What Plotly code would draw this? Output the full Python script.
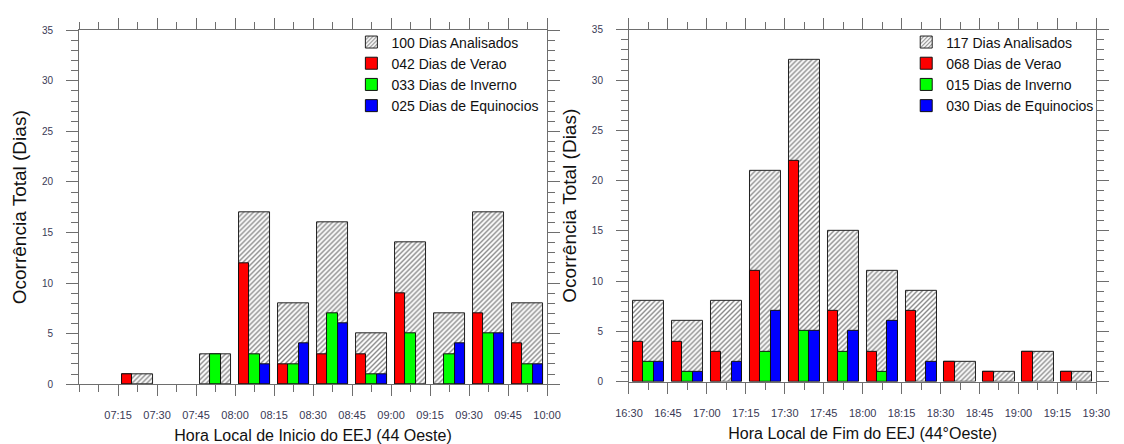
import plotly.graph_objects as go

# ---------------- data ----------------
start_bins = ["07:00", "07:15", "07:30", "07:45", "08:00", "08:15",
              "08:30", "08:45", "09:00", "09:15", "09:30", "09:45"]
start_total = [0, 1, 0, 3, 17, 8, 16, 5, 14, 7, 17, 8]
start_verao = [0, 1, 0, 0, 12, 2, 3, 3, 9, 0, 7, 4]
start_inverno = [0, 0, 0, 3, 3, 2, 7, 1, 5, 3, 5, 2]
start_equinocio = [0, 0, 0, 0, 2, 4, 6, 1, 0, 4, 5, 2]
start_ticks = ["07:15", "07:30", "07:45", "08:00", "08:15", "08:30",
               "08:45", "09:00", "09:15", "09:30", "09:45", "10:00"]
start_range = ["07:00", "10:00"]
start_legend = ["100 Dias Analisados", "042 Dias de Verao",
                "033 Dias de Inverno", "025 Dias de Equinocios"]
start_xtitle = "Hora Local de Inicio do EEJ (44 Oeste)"

end_bins = ["16:30", "16:45", "17:00", "17:15", "17:30", "17:45",
            "18:00", "18:15", "18:30", "18:45", "19:00", "19:15"]
end_total = [8, 6, 8, 21, 32, 15, 11, 9, 2, 1, 3, 1]
end_verao = [4, 4, 3, 11, 22, 7, 3, 7, 2, 1, 3, 1]
end_inverno = [2, 1, 0, 3, 5, 3, 1, 0, 0, 0, 0, 0]
end_equinocio = [2, 1, 2, 7, 5, 5, 6, 2, 0, 0, 0, 0]
end_ticks = ["16:30", "16:45", "17:00", "17:15", "17:30", "17:45", "18:00",
             "18:15", "18:30", "18:45", "19:00", "19:15", "19:30"]
end_range = ["16:30", "19:30"]
end_legend = ["117 Dias Analisados", "068 Dias de Verao",
              "015 Dias de Inverno", "030 Dias de Equinocios"]
end_xtitle = "Hora Local de Fim do EEJ (44°Oeste)"

y_ticks = [0, 5, 10, 15, 20, 25, 30, 35]
y_title = "Ocorrência Total (Dias)"

# ---------------- helpers ----------------
def to_min(s):
    h, m = s.split(":")
    return int(h) * 60 + int(m)

def nz(vals):
    # empty bins draw nothing
    return [v if v else None for v in vals]

BIN = 15.0
GROUP = 0.8 * BIN
SUB = GROUP / 3.0
FONT = "Liberation Sans, Arial, sans-serif"
AXC = "#6e6e6e"
TXT = "#3a3a55"
colors = ["#ff0000", "#00ff00", "#0000ff"]

fig = go.Figure()

def add_panel(bins, total, series, names, xa, ya, legend):
    centers = [to_min(b) + BIN / 2 for b in bins]
    fig.add_trace(go.Bar(
        x=centers, y=nz(total), width=GROUP, name=names[0],
        xaxis=xa, yaxis=ya, legend=legend,
        marker=dict(color="white",
                    line=dict(color="#222222", width=1),
                    pattern=dict(shape="/", fgcolor="#111111", bgcolor="white",
                                 size=3.5, solidity=0.4)),
    ))
    for k, (vals, col, nm) in enumerate(zip(series, colors, names[1:])):
        fig.add_trace(go.Bar(
            x=[c + (k - 1) * SUB for c in centers], y=nz(vals), width=SUB, name=nm,
            xaxis=xa, yaxis=ya, legend=legend,
            marker=dict(color=col, line=dict(color="#111111", width=1)),
        ))

add_panel(start_bins, start_total, [start_verao, start_inverno, start_equinocio],
          start_legend, "x", "y", "legend")
add_panel(end_bins, end_total, [end_verao, end_inverno, end_equinocio],
          end_legend, "x2", "y2", "legend2")

def xaxis(domain, ticks, rng, title, anchor):
    return dict(
        domain=domain, anchor=anchor,
        range=[to_min(rng[0]), to_min(rng[1])],
        tickmode="array", tickvals=[to_min(t) for t in ticks], ticktext=ticks,
        ticks="outside", ticklen=11, tickwidth=1, tickcolor=AXC,
        minor=dict(dtick=BIN / 2, tick0=to_min(rng[0]), ticks="outside",
                   ticklen=7, tickcolor=AXC, tickwidth=1),
        showline=True, linecolor=AXC, linewidth=1, mirror="ticks",
        showgrid=False, zeroline=False,
        tickfont=dict(family=FONT, size=11, color=TXT),
        ticklabelstandoff=10,
        title=dict(text=title, font=dict(family=FONT, size=16, color="#111111"),
                   standoff=10),
    )

def yaxis(domain, anchor):
    return dict(
        domain=domain, anchor=anchor, range=[0, 35],
        tickmode="array", tickvals=y_ticks,
        ticks="outside", ticklen=12, tickwidth=1, tickcolor=AXC,
        minor=dict(dtick=1, tick0=0, ticks="outside", ticklen=7,
                   tickcolor=AXC, tickwidth=1),
        showline=True, linecolor=AXC, linewidth=1, mirror="ticks",
        showgrid=False, zeroline=False,
        tickfont=dict(family=FONT, size=10, color=TXT),
        ticklabelstandoff=11,
        title=dict(text=y_title, font=dict(family=FONT, size=19, color="#111111"),
                   standoff=10),
    )

W, H = 1124, 444
fig.update_layout(
    width=W, height=H,
    margin=dict(l=0, r=0, t=0, b=0),
    paper_bgcolor="white", plot_bgcolor="white",
    barmode="overlay", bargap=0,
    showlegend=True,
    xaxis=xaxis([66.7 / W, 546.7 / W], start_ticks, start_range, start_xtitle, "y"),
    yaxis=yaxis([(H - 388.7) / H, (H - 25) / H], "x"),
    xaxis2=xaxis([630.7 / W, 1110 / W], end_ticks, end_range, end_xtitle, "y2"),
    yaxis2=yaxis([(H - 386) / H, (H - 24.5) / H], "x2"),
    legend=dict(x=346 / W, y=(H - 21) / H, xanchor="left", yanchor="top",
                font=dict(family=FONT, size=14, color="#111111"),
                bgcolor="rgba(0,0,0,0)", tracegroupgap=0, itemwidth=30),
    legend2=dict(x=915 / W, y=(H - 21) / H, xanchor="left", yanchor="top",
                 font=dict(family=FONT, size=14, color="#111111"),
                 bgcolor="rgba(0,0,0,0)", tracegroupgap=0, itemwidth=30),
    font=dict(family=FONT),
)

fig.write_html("out.html")
